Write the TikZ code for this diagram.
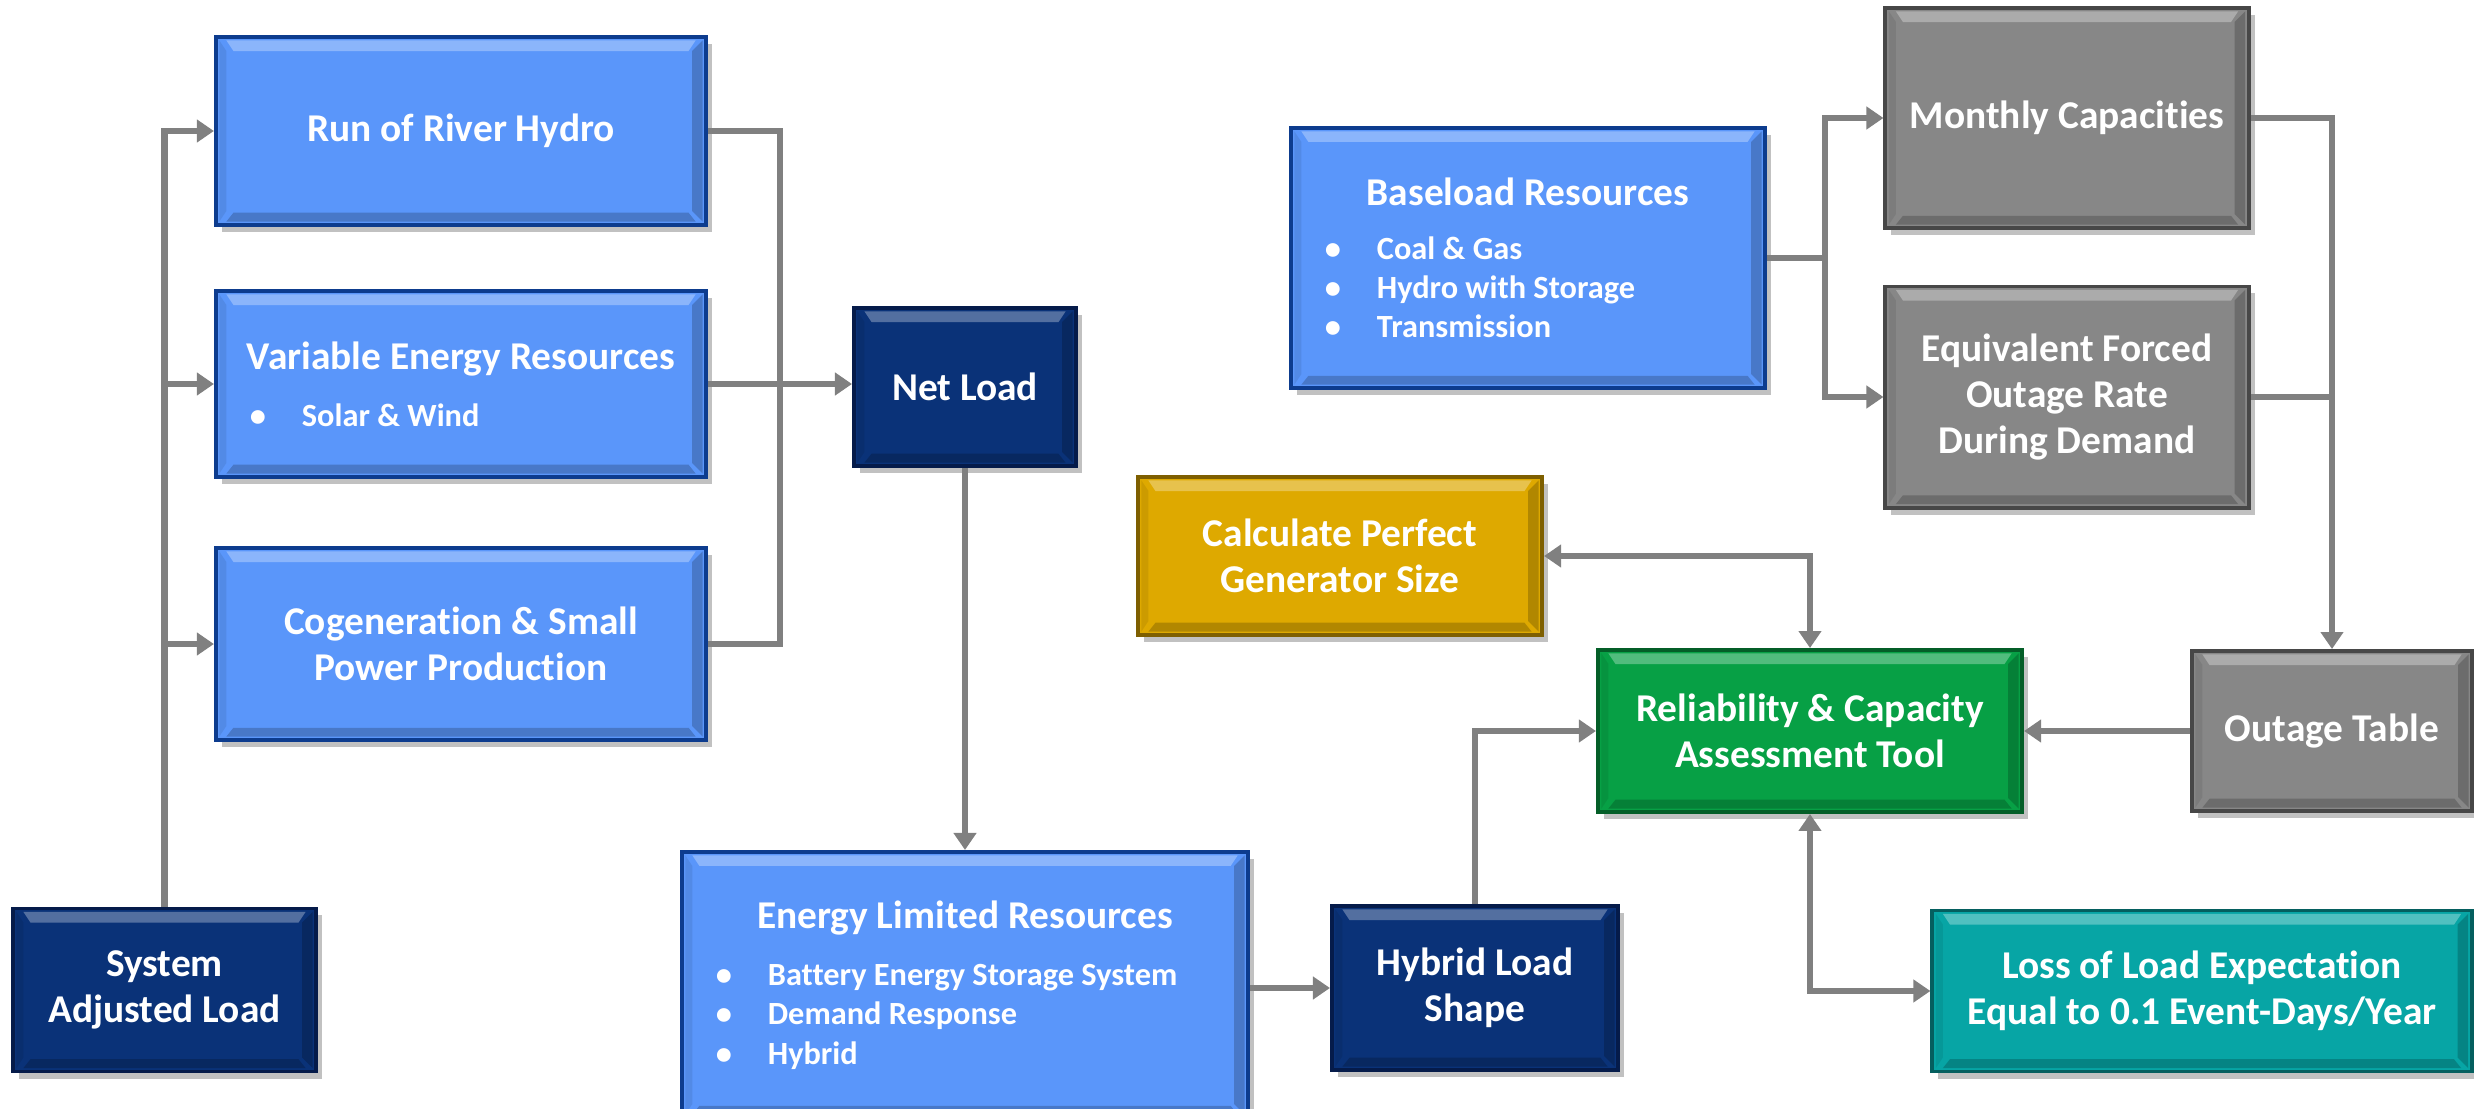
\documentclass[tikz,border=0pt]{standalone}
\usepackage{fontspec}
\setmainfont{Carlito}[Ligatures=NoCommon]
\usetikzlibrary{arrows.meta,shadows}
\definecolor{lblue}{HTML}{5A96FA}
\definecolor{lblueD}{HTML}{0D3C8E}
\definecolor{navy}{HTML}{0A3278}
\definecolor{navyD}{HTML}{051B4A}
\definecolor{greyF}{HTML}{878787}
\definecolor{greyD}{HTML}{474747}
\definecolor{goldF}{HTML}{DEA900}
\definecolor{goldD}{HTML}{7E5F00}
\definecolor{greenF}{HTML}{07A045}
\definecolor{greenD}{HTML}{045E28}
\definecolor{tealF}{HTML}{07A5A5}
\definecolor{tealD}{HTML}{055F5F}
\definecolor{conn}{HTML}{808080}
\newcommand\bitem[1]{\par\hspace*{0.35cm}\makebox[0.14cm]{\textbullet}\hspace*{0.37cm}#1}
\newcommand\bfnt{\fontsize{9.2}{11.2}\selectfont}
\tikzset{
  bevel/.style={path picture={
    \fill[white,opacity=.30] ([xshift=3pt,yshift=-1pt]path picture bounding box.north west) -- ([xshift=-3pt,yshift=-1pt]path picture bounding box.north east) -- ([xshift=-5pt,yshift=-4pt]path picture bounding box.north east) -- ([xshift=5pt,yshift=-4pt]path picture bounding box.north west) -- cycle;
    \fill[black,opacity=.20] ([xshift=3pt,yshift=1pt]path picture bounding box.south west) -- ([xshift=-3pt,yshift=1pt]path picture bounding box.south east) -- ([xshift=-5pt,yshift=3.5pt]path picture bounding box.south east) -- ([xshift=5pt,yshift=3.5pt]path picture bounding box.south west) -- cycle;
    \fill[black,opacity=.20] ([xshift=-1pt,yshift=-1pt]path picture bounding box.north east) -- ([xshift=-1pt,yshift=1pt]path picture bounding box.south east) -- ([xshift=-4pt,yshift=4pt]path picture bounding box.south east) -- ([xshift=-4pt,yshift=-4pt]path picture bounding box.north east) -- cycle;
    \fill[black,opacity=.08] ([xshift=1pt,yshift=-1pt]path picture bounding box.north west) -- ([xshift=1pt,yshift=1pt]path picture bounding box.south west) -- ([xshift=3pt,yshift=4pt]path picture bounding box.south west) -- ([xshift=3pt,yshift=-4pt]path picture bounding box.north west) -- cycle;
  }},
  box/.style={rectangle, inner sep=0pt, line width=1.1pt, bevel, text=white,
    align=center, font=\fontsize{11.2}{13.2}\selectfont\bfseries,
    drop shadow={shadow xshift=0.06cm, shadow yshift=-0.07cm, opacity=.35, fill=black!70}},
  lbox/.style={box, fill=lblue, draw=lblueD},
  nbox/.style={box, fill=navy, draw=navyD},
  gbox/.style={box, fill=greyF, draw=greyD},
  ybox/.style={box, fill=goldF, draw=goldD},
  grbox/.style={box, fill=greenF, draw=greenD},
  tbox/.style={box, fill=tealF, draw=tealD},
  conline/.style={draw=conn, line width=0.065cm},
  arr/.style={conline, -{Triangle[length=0.17cm,width=0.22cm]}},
  darr/.style={conline, {Triangle[length=0.17cm,width=0.22cm]}-{Triangle[length=0.17cm,width=0.22cm]}},
}
\begin{document}
\begin{tikzpicture}[x=0.01cm,y=-0.01cm]
\useasboundingbox (0,0) rectangle (2474,1109);
% left column
\node[lbox, minimum width=4.90cm, minimum height=1.88cm] (run) at (461,131) {Run of River Hydro};
\node[lbox, minimum width=4.90cm, minimum height=1.86cm] (ver) at (461,384) {\parbox{4.90cm}{\centering Variable Energy Resources\par\vspace{5pt}\raggedright\bfnt\bitem{Solar \& Wind}\par}};
\node[lbox, minimum width=4.90cm, minimum height=1.92cm] (cogen) at (461,644) {Cogeneration \& Small\\Power Production};
\node[nbox, minimum width=3.03cm, minimum height=1.63cm] (sal) at (164.5,990) {System\\Adjusted Load};
% middle
\node[nbox, minimum width=2.22cm, minimum height=1.58cm] (net) at (965,387) {Net Load};
\node[lbox, minimum width=5.66cm, minimum height=2.66cm] (elr) at (965,985) {\parbox{5.66cm}{\centering Energy Limited Resources\par\vspace{5pt}\raggedright\bfnt\bitem{Battery Energy Storage System}\bitem{Demand Response}\bitem{Hybrid}\par}};
\node[nbox, minimum width=2.86cm, minimum height=1.64cm] (hls) at (1475,988) {Hybrid Load\\Shape};
\node[ybox, minimum width=4.04cm, minimum height=1.58cm] (calc) at (1340,556) {Calculate Perfect\\Generator Size};
% right
\node[lbox, minimum width=4.74cm, minimum height=2.60cm] (base) at (1528,258) {\parbox{4.74cm}{\centering Baseload Resources\par\vspace{4pt}\raggedright\bfnt\bitem{Coal \& Gas}\bitem{Hydro with Storage}\bitem{Transmission}\par}};
\node[gbox, minimum width=3.63cm, minimum height=2.20cm] (monthly) at (2067,118) {Monthly Capacities};
\node[gbox, minimum width=3.63cm, minimum height=2.21cm] (efor) at (2067,397) {Equivalent Forced\\Outage Rate\\During Demand};
\node[grbox, minimum width=4.24cm, minimum height=1.62cm] (rcat) at (1810,731) {Reliability \& Capacity\\Assessment Tool};
\node[gbox, minimum width=2.80cm, minimum height=1.60cm] (outage) at (2332,731) {Outage Table};
\node[tbox, minimum width=5.39cm, minimum height=1.61cm] (lole) at (2202,991) {Loss of Load Expectation\\Equal to 0.1 Event-Days/Year};
% connectors left
\draw[arr] (sal.north) |- (run.west);
\draw[arr] (sal.north) |- (ver.west);
\draw[arr] (sal.north) |- (cogen.west);
\coordinate (rj) at (780,385);
\draw[conline] (run.east) -| (rj);
\draw[conline] (cogen.east) -| (rj);
\draw[arr] (ver.east) -- (ver.east -| net.west);
\draw[arr] (net.south) -- (elr.north);
\draw[arr] (elr.east |- hls.west) -- (hls.west);
\draw[arr] (hls.north) |- (rcat.west);
\draw[arr] (outage.west) -- (rcat.east);
\draw[darr] (calc.east) -| (rcat.north);
\draw[darr] (rcat.south) |- (lole.west);
% connectors right
\coordinate (bj) at (1825,258);
\draw[conline] (base.east) -- (bj);
\draw[arr] (bj) |- (monthly.west);
\draw[arr] (bj) |- (efor.west);
\draw[arr] (monthly.east) -| (outage.north);
\draw[conline] (efor.east) -- (efor.east -| outage.north);
\end{tikzpicture}
\end{document}
